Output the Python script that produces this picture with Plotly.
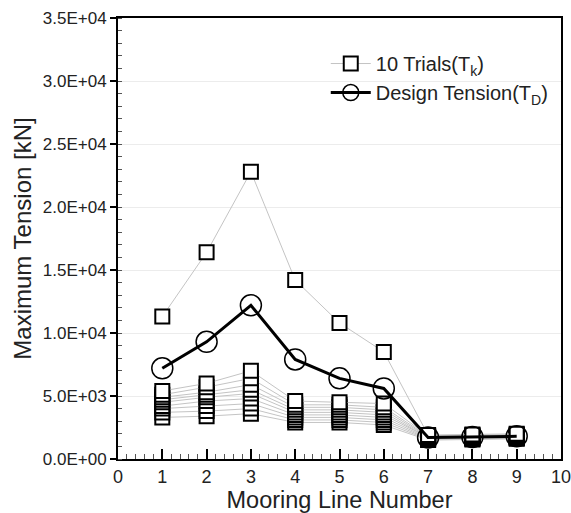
import plotly.graph_objects as go

mooring_lines = [1, 2, 3, 4, 5, 6, 7, 8, 9]

trial_01 = [3300, 3400, 3600, 2900, 2900, 2700, 1500, 1550, 1600]
trial_02 = [3700, 3800, 4000, 3100, 3100, 2900, 1550, 1600, 1650]
trial_03 = [4000, 4200, 4400, 3300, 3300, 3100, 1600, 1650, 1700]
trial_04 = [4200, 4600, 4800, 3500, 3500, 3300, 1650, 1650, 1700]
trial_05 = [4500, 4900, 5200, 3700, 3700, 3500, 1700, 1700, 1750]
trial_06 = [4700, 5100, 5500, 3900, 3900, 3700, 1700, 1750, 1800]
trial_07 = [4900, 5300, 5900, 4100, 4100, 3900, 1750, 1800, 1850]
trial_08 = [5100, 5700, 6400, 4300, 4300, 4100, 1800, 1850, 1900]
trial_09 = [5400, 6000, 7000, 4600, 4500, 4400, 1850, 1900, 1950]
trial_10 = [11300, 16400, 22800, 14200, 10800, 8500, 1900, 1950, 2000]

design_tension = [7200, 9300, 12200, 7900, 6400, 5600, 1700, 1750, 1800]

y_tick_values = [0, 5000, 10000, 15000, 20000, 25000, 30000, 35000]
y_tick_labels = [f"{v:.1E}" for v in y_tick_values]
x_tick_values = [0, 1, 2, 3, 4, 5, 6, 7, 8, 9, 10]

trials = [trial_01, trial_02, trial_03, trial_04, trial_05,
          trial_06, trial_07, trial_08, trial_09, trial_10]

fig = go.Figure()
for i, tr in enumerate(trials):
    fig.add_trace(go.Scatter(
        x=mooring_lines, y=tr, mode="lines+markers",
        line=dict(color="#c4c4c4", width=1),
        marker=dict(symbol="square", size=14, color="white",
                    line=dict(color="black", width=2)),
        name="10 Trials(T<sub>k</sub>)", legendgroup="trials",
        showlegend=(i == 0),
    ))

fig.add_trace(go.Scatter(
    x=mooring_lines, y=design_tension, mode="lines+markers",
    line=dict(color="black", width=3),
    marker=dict(symbol="circle-open", size=21, color="black",
                line=dict(color="black", width=1.5)),
    name="Design Tension(T<sub>D</sub>)",
))

font_family = "Liberation Sans, Arial, sans-serif"

fig.update_layout(
    width=571, height=513,
    margin=dict(l=118, r=10, t=18, b=54, autoexpand=False),
    paper_bgcolor="white", plot_bgcolor="white",
    font=dict(family=font_family, color="#222"),
    legend=dict(x=0.469, y=0.941, xanchor="left", yanchor="top",
                bgcolor="rgba(255,255,255,0)", font=dict(size=20, color="#222"),
                tracegroupgap=0, itemwidth=40),
    xaxis=dict(
        range=[0, 10], tickvals=x_tick_values, automargin=False,
        ticklabeloverflow="allow",
        ticks="inside", ticklen=10, tickwidth=1.5, tickcolor="black",
        showline=True, linecolor="black", linewidth=2, mirror=True,
        showgrid=False, zeroline=False,
        tickfont=dict(size=18, color="#222"),
        minor=dict(dtick=0.2, ticks="inside", ticklen=5, tickcolor="#555", tickwidth=1),
        title=dict(text="Mooring Line Number", font=dict(size=23.5, color="#222"), standoff=2),
    ),
    yaxis=dict(
        range=[0, 35000], tickvals=y_tick_values, ticktext=y_tick_labels, automargin=False,
        ticklabeloverflow="allow",
        ticks="outside", ticklen=6, tickwidth=1.5, tickcolor="black",
        showline=True, linecolor="black", linewidth=2, mirror=True,
        showgrid=True, gridcolor="#ececec", gridwidth=1, zeroline=False,
        tickfont=dict(size=17, color="#222"),
        minor=dict(dtick=1000, ticks="inside", ticklen=4, tickcolor="#555", tickwidth=1),
        title=dict(text="Maximum Tension [kN]", font=dict(size=24, color="#222"), standoff=4),
    ),
)

fig.write_html("out.html")
